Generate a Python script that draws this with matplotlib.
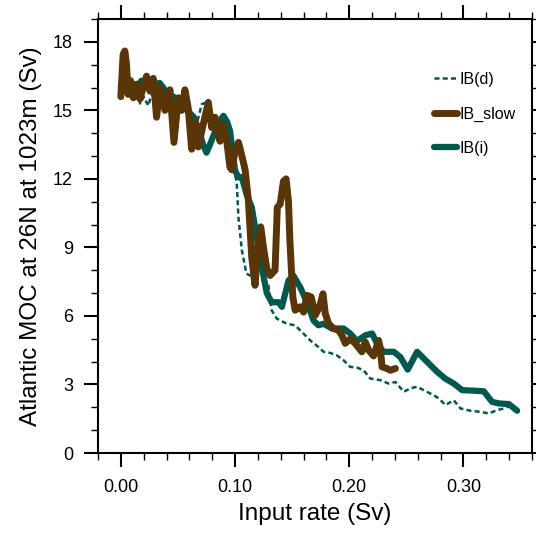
import matplotlib
matplotlib.use('Agg')
import matplotlib.pyplot as plt
from matplotlib.ticker import MultipleLocator

plt.rcParams['font.family'] = ['Liberation Sans', 'DejaVu Sans']

# IB(d): dashed teal
ibd_x = [0.0, 0.001, 0.003, 0.006, 0.010, 0.014, 0.017, 0.020, 0.024, 0.028,
         0.034, 0.040, 0.046, 0.052, 0.056, 0.062, 0.066, 0.068, 0.0708, 0.075,
         0.078, 0.083, 0.088, 0.092, 0.096, 0.0985, 0.1015, 0.103, 0.106, 0.110,
         0.116, 0.122, 0.129, 0.132, 0.1366, 0.1453, 0.1526, 0.1585, 0.1658, 0.173,
         0.1775, 0.1833, 0.189, 0.195, 0.2009, 0.2067, 0.2126, 0.2184, 0.2272, 0.2345,
         0.2404, 0.2477, 0.2535, 0.2594, 0.2652, 0.274, 0.2784, 0.2842, 0.2915, 0.2974,
         0.3061, 0.315, 0.3222, 0.3295, 0.3354, 0.340]
ibd_y = [16.0, 16.8, 16.3, 16.6, 16.0, 15.8, 15.3, 15.6, 15.2, 15.9,
         16.2, 15.7, 15.4, 15.6, 15.1, 14.6, 14.4, 14.7, 15.27, 15.35,
         14.8, 14.3, 14.6, 14.3, 13.6, 12.65, 11.78, 10.3, 8.86, 7.85,
         7.7, 7.6, 7.4, 6.25, 5.88, 5.66, 5.59, 5.3, 4.93, 4.64,
         4.43, 4.38, 4.28, 4.06, 3.77, 3.74, 3.62, 3.26, 3.19, 3.04,
         3.11, 2.68, 2.83, 2.9, 2.75, 2.53, 2.39, 2.1, 2.31, 1.95,
         1.85, 1.8, 1.73, 1.88, 1.95, 2.05]

# IB(i): thick teal
ibi_x = [0.0, 0.002, 0.005, 0.009, 0.013, 0.018, 0.022, 0.028, 0.034, 0.040,
         0.046, 0.052, 0.056, 0.060, 0.064, 0.068, 0.072, 0.075, 0.078, 0.082,
         0.086, 0.0898, 0.093, 0.0956, 0.100, 0.103, 0.106, 0.110, 0.1146, 0.119,
         0.1234, 0.1278, 0.132, 0.138, 0.141, 0.1468, 0.151, 0.157, 0.163, 0.1687,
         0.173, 0.1775, 0.1848, 0.195, 0.2009, 0.2067, 0.214, 0.220, 0.2243, 0.230,
         0.239, 0.2447, 0.2512, 0.2594, 0.268, 0.277, 0.284, 0.2915, 0.2989, 0.309,
         0.3178, 0.325, 0.331, 0.3398, 0.347]
ibi_y = [16.0, 16.6, 16.1, 16.2, 15.9, 16.3, 16.0, 16.1, 16.2, 15.8,
         15.6, 15.4, 15.1, 14.9, 14.7, 14.2, 13.5, 13.15, 13.5, 14.0,
         14.5, 14.76, 14.5, 14.1, 12.36, 12.07, 12.07, 11.34, 10.76, 9.45,
         8.14, 7.0, 6.6, 6.6, 6.4, 7.55, 7.77, 7.26, 6.6, 5.8,
         5.59, 5.66, 5.45, 5.45, 5.23, 4.9, 5.15, 5.23, 4.79, 4.43,
         4.43, 4.2, 3.65, 4.43, 4.0, 3.55, 3.26, 3.04, 2.75, 2.73,
         2.7, 2.24, 2.17, 2.14, 1.85]

# IB_slow: thick brown
slow_x = [0.0, 0.002, 0.0035, 0.005, 0.0064, 0.0085, 0.011, 0.0138, 0.0167, 0.0225,
          0.0254, 0.0284, 0.0313, 0.0342, 0.0386, 0.043, 0.0465, 0.0503, 0.0532, 0.0561,
          0.059, 0.062, 0.065, 0.0678, 0.0722, 0.0766, 0.0795, 0.0825, 0.0868, 0.0898,
          0.0927, 0.0956, 0.0971, 0.100, 0.103, 0.106, 0.1088, 0.1117, 0.1146, 0.1175,
          0.1205, 0.1225, 0.1249, 0.1278, 0.1307, 0.135, 0.137, 0.1395, 0.1424, 0.1447,
          0.1468, 0.148, 0.1506, 0.1526, 0.157, 0.160, 0.163, 0.1667, 0.1702, 0.174,
          0.177, 0.179, 0.182, 0.1862, 0.1906, 0.1936, 0.1965, 0.2009, 0.2053, 0.211,
          0.214, 0.217, 0.2213, 0.2257, 0.2272, 0.2287, 0.233, 0.236, 0.2404]
slow_y = [15.6, 17.45, 17.6, 17.0, 15.7, 16.3, 15.55, 16.15, 15.5, 16.5,
          15.85, 16.4, 14.7, 16.0, 15.0, 15.9, 13.6, 15.55, 15.0, 15.9,
          15.1, 13.3, 14.5, 13.4, 14.4, 15.35, 14.25, 14.7, 13.65, 14.4,
          13.65, 12.5, 12.4, 13.2, 13.6, 13.0, 12.4, 11.05, 8.57, 7.34,
          9.3, 9.9, 9.0, 8.07, 7.77, 8.0, 10.75, 10.9, 11.9, 12.0,
          11.0, 9.3, 6.83, 6.25, 6.4, 6.17, 6.9, 6.83, 6.03, 6.4,
          6.97, 6.1, 5.66, 5.45, 5.37, 5.15, 4.8, 5.0, 4.79, 4.43,
          4.86, 4.5, 4.25, 4.93, 4.57, 3.77, 3.7, 3.62, 3.7]

teal = '#00594f'
brown = '#5a3508'

fig = plt.figure(figsize=(5.36, 5.35), dpi=100)
ax = fig.add_axes([98 / 536, 82 / 535, 434 / 536, 434 / 535])

ax.plot(ibd_x, ibd_y, color=teal, lw=1.8, dashes=(2, 1.3), label='IB(d)')
ax.plot(ibi_x, ibi_y, color=teal, lw=4.5, solid_capstyle='round',
        solid_joinstyle='round', label='IB(i)')
ax.plot(slow_x, slow_y, color=brown, lw=5, solid_capstyle='round',
        solid_joinstyle='round', label='IB_slow')

ax.set_xlim(-0.02, 0.36)
ax.set_ylim(0, 19)
ax.xaxis.set_minor_locator(MultipleLocator(0.02))
ax.yaxis.set_major_locator(MultipleLocator(3))
ax.yaxis.set_minor_locator(MultipleLocator(1))
ax.set_xticks([0.0, 0.1, 0.2, 0.3])
ax.set_xticklabels(['0.00', '0.10', '0.20', '0.30'])

for s in ax.spines.values():
    s.set_linewidth(1.5)
ax.tick_params(which='both', direction='out', top=True, right=True,
               labeltop=False, labelright=False, labelsize=13)
ax.tick_params(which='major', length=10, width=1.5)
ax.tick_params(which='minor', length=5, width=1)
ax.tick_params(axis='x', which='major', pad=9)
ax.tick_params(axis='y', which='major', pad=8)

ax.set_xlabel('Input rate (Sv)', fontsize=17.5, labelpad=5)
ax.set_ylabel('Atlantic MOC at 26N at 1023m (Sv)', fontsize=17.5, labelpad=8)

h, l = ax.get_legend_handles_labels()
order = [0, 2, 1]
ax.legend([h[i] for i in order], [l[i] for i in order], loc='upper left',
          bbox_to_anchor=(0.775, 0.878), frameon=False, fontsize=11.5,
          handlelength=1.4, handletextpad=0.15, labelspacing=1.22,
          borderpad=0, borderaxespad=0)

fig.savefig('out.png', dpi=100)
